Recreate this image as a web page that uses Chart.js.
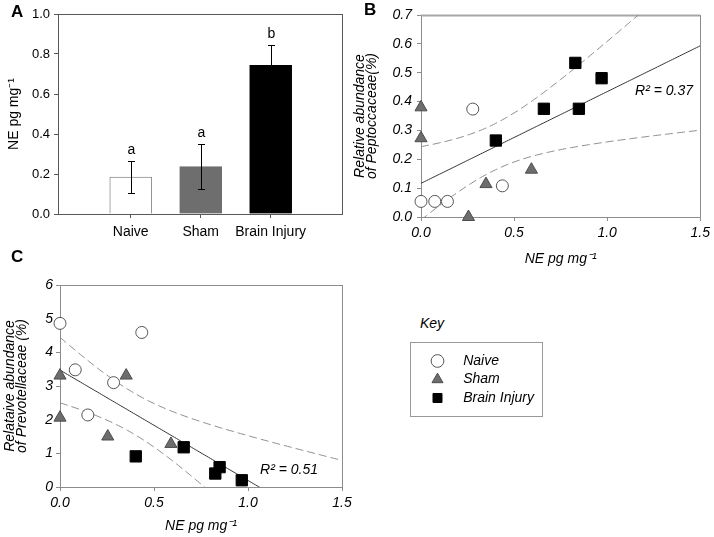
<!DOCTYPE html>
<html>
<head>
<meta charset="utf-8">
<script src="https://cdn.jsdelivr.net/npm/chart.js@4.4.1/dist/chart.umd.min.js"></script>
<style>
  body { margin: 0; background: #fff; }
  #fig { position: relative; width: 714px; height: 537px; overflow: hidden; font-family: 'Liberation Sans', Arial, sans-serif; }
  .box { position: absolute; }
  .tag { position: absolute; font-weight: bold; font-size: 17px; line-height: 17px; }
  #keyTitle { position: absolute; left: 420px; top: 316px; font-style: italic; font-size: 14px; line-height: 14px; }
  #keyBox { position: absolute; left: 410px; top: 342px; width: 133px; height: 75px; border: 1px solid #999; box-sizing: border-box; }
</style>
</head>
<body>
<div id="fig">
  <div class="box" style="left:0;top:0;width:350px;height:250px"><canvas id="chartA" width="350" height="250"></canvas></div>
  <div class="box" style="left:340px;top:0;width:374px;height:280px"><canvas id="chartB" width="374" height="280"></canvas></div>
  <div class="box" style="left:0;top:270px;width:360px;height:267px"><canvas id="chartC" width="360" height="267"></canvas></div>
  <div class="tag" style="left:11px;top:3px">A</div>
  <div class="tag" style="left:364px;top:1px">B</div>
  <div class="tag" style="left:11px;top:248px">C</div>
  <div id="keyTitle">Key</div>
  <div id="keyBox"></div>
  <div class="box" style="left:411px;top:343px;width:300px;height:73px"><canvas id="chartKey" width="300" height="73"></canvas></div>
</div>
<script>
// panel A - NE levels per group
const groups = ['Naive', 'Sham', 'Brain Injury'];
const neMean = [0.185, 0.237, 0.743];
const neSem = [0.078, 0.113, 0.101];
const sigLetters = ['a', 'a', 'b'];

// panel B - NE vs Peptococcaceae
const naiveNE_B = [0, 0.074, 0.142, 0.278, 0.437];
const naivePep = [0.054, 0.054, 0.054, 0.374, 0.108];
const shamNE_B = [0, 0, 0.255, 0.349, 0.593];
const shamPep = [0.38, 0.273, 0.0, 0.114, 0.164];
const injNE_B = [0.402, 0.66, 0.829, 0.848, 0.97];
const injPep = [0.265, 0.375, 0.534, 0.375, 0.481];
const r2B = 0.37;

// panel C - NE vs Prevotellaceae
const naiveNE_C = [0, 0.081, 0.148, 0.285, 0.435];
const naivePrev = [4.86, 3.48, 2.14, 3.10, 4.59];
const shamNE_C = [0, 0, 0.254, 0.352, 0.59];
const shamPrev = [3.31, 2.06, 1.5, 3.31, 1.28];
const injNE_C = [0.403, 0.658, 0.826, 0.849, 0.967];
const injPrev = [0.91, 1.18, 0.40, 0.59, 0.20];
const r2C = 0.51;

const T13 = 2.1604; // t crit, 95%, df = 13

Chart.defaults.font.family = "'Liberation Sans', Arial, sans-serif";
Chart.defaults.color = '#000';
Chart.defaults.animation = false;

const pts = (xs, ys) => xs.map((x, i) => ({x: x, y: ys[i]}));

// least squares line + 95% confidence band of the mean
function regress(xs, ys) {
    const n = xs.length;
    const mx = xs.reduce((a, b) => a + b, 0) / n;
    const my = ys.reduce((a, b) => a + b, 0) / n;
    let sxx = 0, sxy = 0, syy = 0;
    for (let i = 0; i < n; i++) {
        sxx += (xs[i] - mx) ** 2;
        sxy += (xs[i] - mx) * (ys[i] - my);
        syy += (ys[i] - my) ** 2;
    }
    const b = sxy / sxx, a = my - b * mx;
    const s = Math.sqrt((syy - b * sxy) / (n - 2));
    const line = [], upper = [], lower = [];
    for (let k = 0; k <= 150; k++) {
        const x = 1.5 * k / 150;
        const yh = a + b * x;
        const se = s * Math.sqrt(1 / n + (x - mx) ** 2 / sxx);
        line.push({x: x, y: yh});
        upper.push({x: x, y: yh + T13 * se});
        lower.push({x: x, y: yh - T13 * se});
    }
    return {line, upper, lower};
}

const framePlugin = {
    id: 'frame',
    beforeDatasetsDraw(chart, args, opts) {
        const {ctx, chartArea: a} = chart;
        ctx.save();
        ctx.strokeStyle = opts.topColor;
        ctx.lineWidth = opts.topWidth;
        ctx.beginPath();
        ctx.moveTo(Math.round(a.left), Math.round(a.top) + 0.5);
        ctx.lineTo(Math.round(a.right), Math.round(a.top) + 0.5);
        ctx.stroke();
        ctx.strokeStyle = opts.color;
        ctx.lineWidth = 1;
        ctx.beginPath();
        ctx.moveTo(Math.round(a.right) + 0.5, Math.round(a.top));
        ctx.lineTo(Math.round(a.right) + 0.5, Math.round(a.bottom));
        ctx.stroke();
        ctx.restore();
    }
};

const r2Plugin = {
    id: 'r2label',
    afterDatasetsDraw(chart, args, opts) {
        const {ctx, scales: {x, y}} = chart;
        ctx.save();
        ctx.fillStyle = '#000';
        ctx.font = "italic 14px 'Liberation Sans', Arial, sans-serif";
        ctx.textBaseline = 'middle';
        ctx.textAlign = 'left';
        ctx.fillText('R\u00B2 = ' + opts.value.toFixed(2), x.getPixelForValue(opts.x), y.getPixelForValue(opts.y));
        ctx.restore();
    }
};

/**
 * Panel A: bars with error bars and letters
 */
const errPlugin = {
    id: 'errbars',
    afterDatasetsDraw(chart) {
        const {ctx, scales: {x, y}} = chart;
        ctx.save();
        ctx.strokeStyle = '#000';
        ctx.fillStyle = '#000';
        ctx.lineWidth = 1;
        ctx.font = "14px 'Liberation Sans', Arial, sans-serif";
        ctx.textAlign = 'center';
        neMean.forEach((m, i) => {
            const px = Math.round(x.getPixelForValue(i + 1)) + 0.5;
            const top = Math.round(y.getPixelForValue(m + neSem[i])) + 0.5;
            const bot = Math.round(y.getPixelForValue(m - neSem[i])) + 0.5;
            ctx.beginPath();
            ctx.moveTo(px, top); ctx.lineTo(px, bot);
            ctx.moveTo(px - 3.5, top); ctx.lineTo(px + 3.5, top);
            ctx.moveTo(px - 3.5, bot); ctx.lineTo(px + 3.5, bot);
            ctx.stroke();
            ctx.fillText(sigLetters[i], px, top - 8);
        });
        ctx.restore();
    }
};

const axA = '#595959';
new Chart(document.getElementById('chartA'), {
    type: 'bar',
    data: {
        datasets: [{
            data: pts([1, 2, 3], neMean),
            backgroundColor: ['#ffffff', '#6e6e6e', '#000000'],
            borderColor: ['#8c8c8c', '#6e6e6e', '#000000'],
            borderWidth: 1,
            barThickness: 42
        }]
    },
    options: {
        responsive: false,
        events: [],
        layout: {padding: {left: 0, top: 14, right: 8, bottom: 0}},
        plugins: {
            legend: {display: false},
            tooltip: {enabled: false},
            frame: {color: axA, topColor: axA, topWidth: 1}
        },
        scales: {
            x: {
                type: 'linear', min: -0.04, max: 4.02, offset: false,
                afterBuildTicks: s => { s.ticks = groups.map((g, i) => ({value: i + 1})); },
                ticks: {callback: v => groups[Math.round(v) - 1], font: {size: 14}, padding: 6, maxRotation: 0, autoSkip: false},
                grid: {drawOnChartArea: false, tickLength: 4, color: axA, offset: false},
                border: {color: axA},
                afterFit: s => { s.height = 36; }
            },
            y: {
                min: 0, max: 1,
                ticks: {stepSize: 0.2, callback: v => v.toFixed(1), font: {size: 13}, padding: 4},
                title: {display: true, text: 'NE pg mg\u207B\u00B9', font: {size: 14}, padding: {top: 6, bottom: 0}},
                grid: {drawOnChartArea: false, tickLength: 4, color: axA},
                border: {color: axA},
                afterFit: s => { s.width = 58; }
            }
        }
    },
    plugins: [framePlugin, errPlugin]
});

/**
 * Scatter panels B and C
 */
function scatterSets(nx, ny, sx, sy, ix, iy) {
    const fit = regress(nx.concat(sx, ix), ny.concat(sy, iy));
    return [
        {label: 'Naive', data: pts(nx, ny), pointStyle: 'circle', pointRadius: 6, backgroundColor: '#fff', borderColor: '#555', borderWidth: 1, clip: false, order: 0},
        {label: 'Sham', data: pts(sx, sy), pointStyle: 'triangle', pointRadius: 7, backgroundColor: '#6d6d6d', borderColor: '#4d4d4d', borderWidth: 1, clip: false, order: 0},
        {label: 'Brain Injury', data: pts(ix, iy), pointStyle: 'rect', pointRadius: 8, backgroundColor: '#000', borderColor: '#000', borderWidth: 1, clip: false, order: 0},
        {data: fit.line, showLine: true, pointRadius: 0, borderColor: '#333', borderWidth: 1, order: 1},
        {data: fit.upper, showLine: true, pointRadius: 0, borderColor: '#8c8c8c', borderWidth: 1, borderDash: [8, 4], order: 1},
        {data: fit.lower, showLine: true, pointRadius: 0, borderColor: '#8c8c8c', borderWidth: 1, borderDash: [8, 4], order: 1}
    ];
}

const axB = '#8c8c8c';
const italic14 = {size: 14, style: 'italic'};

new Chart(document.getElementById('chartB'), {
    type: 'scatter',
    data: {datasets: scatterSets(naiveNE_B, naivePep, shamNE_B, shamPep, injNE_B, injPep)},
    options: {
        responsive: false,
        events: [],
        layout: {padding: {left: 0, top: 15, right: 11, bottom: 0}},
        plugins: {
            legend: {display: false},
            tooltip: {enabled: false},
            frame: {color: axB, topColor: '#a6a6a6', topWidth: 2},
            r2label: {value: r2B, x: 1.15, y: 0.437}
        },
        scales: {
            x: {
                min: 0, max: 1.5,
                ticks: {stepSize: 0.5, callback: v => v.toFixed(1), font: italic14, padding: 4, maxRotation: 0},
                title: {display: true, text: 'NE pg mg\u207B\u00B9', font: italic14, padding: {top: 0, bottom: 12}},
                grid: {drawOnChartArea: false, tickLength: 4, color: axB},
                border: {color: axB},
                afterFit: s => { s.height = 63; }
            },
            y: {
                min: 0, max: 0.7,
                ticks: {stepSize: 0.1, callback: v => v.toFixed(1), font: italic14, padding: 5},
                title: {display: true, text: ['Relative abundance', 'of Peptoccaceae(%)'], font: {size: 14, style: 'italic', lineHeight: 0.85}, padding: {top: 14, bottom: 0}},
                grid: {drawOnChartArea: false, tickLength: 4, color: axB},
                border: {color: axB},
                afterFit: s => { s.width = 81; }
            }
        }
    },
    plugins: [framePlugin, r2Plugin]
});

new Chart(document.getElementById('chartC'), {
    type: 'scatter',
    data: {datasets: scatterSets(naiveNE_C, naivePrev, shamNE_C, shamPrev, injNE_C, injPrev)},
    options: {
        responsive: false,
        events: [],
        layout: {padding: {left: 0, top: 15, right: 18, bottom: 0}},
        plugins: {
            legend: {display: false},
            tooltip: {enabled: false},
            frame: {color: axB, topColor: axB, topWidth: 1},
            r2label: {value: r2C, x: 1.064, y: 0.505}
        },
        scales: {
            x: {
                min: 0, max: 1.5,
                ticks: {stepSize: 0.5, callback: v => v.toFixed(1), font: italic14, padding: 4, maxRotation: 0},
                title: {display: true, text: 'NE pg mg\u207B\u00B9', font: italic14, padding: {top: 0, bottom: 2}},
                grid: {drawOnChartArea: false, tickLength: 4, color: axB},
                border: {color: axB},
                afterFit: s => { s.height = 50; }
            },
            y: {
                min: 0, max: 6,
                ticks: {stepSize: 1, font: italic14, padding: 3},
                title: {display: true, text: ['Relataive abundance', 'of Prevotellaceae (%)'], font: {size: 14, style: 'italic', lineHeight: 0.857}, padding: {top: 4, bottom: 0}},
                grid: {drawOnChartArea: false, tickLength: 4, color: axB},
                border: {color: axB},
                afterFit: s => { s.width = 60; }
            }
        }
    },
    plugins: [framePlugin, r2Plugin]
});

/**
 * Key: legend only chart
 */
new Chart(document.getElementById('chartKey'), {
    type: 'scatter',
    data: {
        datasets: [
            {label: groups[0], data: [], pointStyle: 'circle', backgroundColor: '#fff', borderColor: '#555', borderWidth: 1},
            {label: groups[1], data: [], pointStyle: 'triangle', backgroundColor: '#6d6d6d', borderColor: '#4d4d4d', borderWidth: 1},
            {label: groups[2], data: [], pointStyle: 'rect', backgroundColor: '#000', borderColor: '#000', borderWidth: 1}
        ]
    },
    options: {
        responsive: false,
        events: [],
        layout: {padding: {left: 15}},
        scales: {x: {display: false}, y: {display: false}},
        plugins: {
            tooltip: {enabled: false},
            legend: {
                position: 'left',
                align: 'center',
                labels: {
                    usePointStyle: true,
                    boxHeight: 9,
                    padding: 4.5,
                    color: '#000',
                    font: {size: 14, style: 'italic'},
                    generateLabels: chart => {
                        const items = Chart.defaults.plugins.legend.labels.generateLabels(chart);
                        items.forEach(it => { it.text = '   ' + it.text; });
                        return items;
                    }
                }
            }
        }
    }
});
</script>
</body>
</html>
